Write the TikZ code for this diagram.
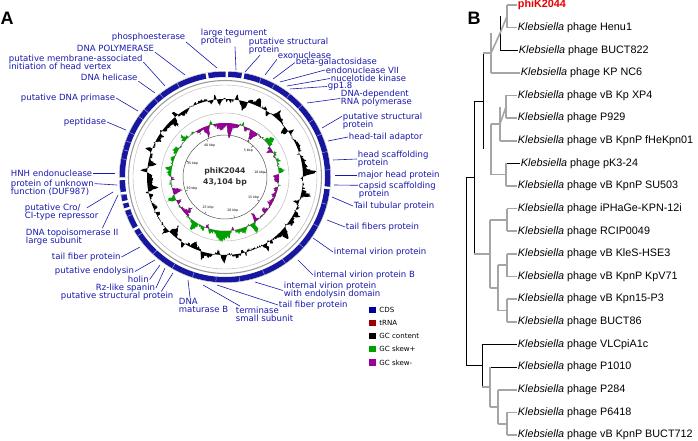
\documentclass[tikz,border=0pt]{standalone}
\usepackage{fontspec}
\setmainfont{Liberation Sans}
\newfontfamily\dejavu{DejaVu Sans}
\usetikzlibrary{calc}
\definecolor{labblue}{RGB}{25,25,175}
\definecolor{ringblue}{RGB}{22,22,160}
\definecolor{cdsblue}{RGB}{0,0,153}
\definecolor{trnared}{RGB}{153,0,0}
\definecolor{skewp}{RGB}{0,160,0}
\definecolor{skewm}{RGB}{153,0,153}
\definecolor{treegray}{RGB}{165,165,165}
\definecolor{phired}{RGB}{230,0,0}
\pgfmathdeclarefunction{spk}{1}{\pgfmathparse{max(0,sin(#1))}\pgfmathparse{\pgfmathresult*\pgfmathresult*\pgfmathresult}\pgfmathparse{\pgfmathresult*\pgfmathresult}}
\pgfmathdeclarefunction{gcc}{1}{\pgfmathparse{2.5*cos(#1+10)+1.8*sin(7*#1+40)+1.4*sin(17*#1+10)+1.2*sin(31*#1+70)+7*spk(23*#1+15)-6*spk(19*#1+100)+(rnd-0.5)*3.4}}
\pgfmathdeclarefunction{gcs}{1}{\pgfmathparse{3*sin(3*#1)+2*sin(#1+200)+1.5*sin(29*#1+10)+1.2*sin(41*#1+50)+7*spk(11*#1+20)-7*spk(13*#1+70)+(rnd-0.5)*4}}
\tikzset{
  lab/.style={font=\dejavu\fontsize{6.4}{6.2}\selectfont, text=labblue, inner sep=0.5pt, align=left},
  lead/.style={draw=labblue, line width=0.45pt},
  legsq/.style={minimum size=5.2pt, inner sep=0pt, draw=none},
  legtxt/.style={font=\dejavu\fontsize{5.3}{6}\selectfont, anchor=west, inner sep=0.5pt},
  br/.style={draw=treegray, line width=1.2pt},
  bk/.style={draw=black, line width=0.45pt},
  leaf/.style={font=\fontsize{8.1}{9}\selectfont, anchor=west, inner sep=0.5pt},
  panel/.style={font=\fontsize{13.5}{14}\selectfont\bfseries, inner sep=0pt}
}
\begin{document}
\begin{tikzpicture}[x=0.75pt,y=-0.75pt]
\useasboundingbox (0,0) rectangle (698,441);
\fill[white] (0,0) rectangle (698,441);
\node[panel] (pA) at (7,18) {A};
\node[panel] (pB) at (474,18) {B};

% ---------------- circular map ----------------
\begin{scope}[shift={(225,177)},yscale=-1]
  \pgfmathsetseed{7}
  \fill[black, even odd rule] plot[domain=0:359.5, samples=720, variable=\t] (\t:{78+gcc(\t)}) -- cycle (0,0) circle (78);
  \pgfmathsetseed{11}
  \fill[skewp, even odd rule] plot[domain=0:359.5, samples=720, variable=\t] (\t:{54+gcs(\t)}) -- cycle (0,0) circle (54);
  \begin{scope}
    \clip (0,0) circle (54);
    \pgfmathsetseed{11}
    \fill[skewm, even odd rule] plot[domain=0:359.5, samples=720, variable=\t] (\t:{54+gcs(\t)}) -- cycle (0,0) circle (54);
  \end{scope}
  \draw[black!70, line width=0.35pt] (0,0) circle (42);
  \draw[gray!60, line width=0.3pt] (0,0) circle (64);
  \draw[gray!60, line width=0.3pt] (0,0) circle (92);
  \draw[gray!80, line width=0.8pt] (0,0) circle (96.5);
  \fill[ringblue, even odd rule] (0,0) circle (105.5) (0,0) circle (100);
  \draw[gray!60, line width=0.3pt] (0,0) circle (105.8);
  \foreach \a in {140,128,117,70,62,52,43,33,24,14,4,-15,-28,-42,-55,-68,-82,-95,-108,-120,-133,-146,-158,-170,-180,165,155,-190,-200,-215,-228}
    \draw[white!60!ringblue, line width=0.35pt] (\a:100) -- (\a:105.5);
  \foreach \a in {100,89,80,-6,181,189,194,198,210}
    \draw[white, line width=1.8pt] (\a:99.6) -- (\a:105.9);
  \foreach \k in {1,...,8}{
    \pgfmathsetmacro\ang{90-360*\k*5/43.104}
    \pgfmathtruncatemacro\kb{5*\k}
    \draw[black!70, line width=0.3pt] (\ang:42) -- (\ang:39.5);
    \node[font=\dejavu\fontsize{2.4}{2.6}\selectfont, inner sep=0pt] (tk\k) at (\ang:35) {\kb\ kbp};
  }
  \node[font=\dejavu\bfseries\fontsize{5.8}{8.2}\selectfont, text=black!80, align=center] (title) at (0,0) {phiK2044\\43,104 bp};
\end{scope}

% ---------------- labels, left and bottom ----------------
\node[lab, anchor=west] (Lpho) at (111,37) {phosphoesterase};
\draw[lead] (Lpho.south east) -- (217,68);
\node[lab, anchor=west] (Lteg) at (200,37.5) {large tegument\\protein};
\draw[lead] ($(Lteg.south west)+(35,0)$) -- (236,70);
\node[lab, anchor=west] (Lps1) at (248,46) {putative structural\\ protein};
\draw[lead] ($(Lps1.south west)+(12,0)$) -- (245,72);
\node[lab, anchor=west] (Lpol) at (76,48) {DNA POLYMERASE};
\draw[lead] (Lpol.south east) -- (185,75);
\node[lab, anchor=west] (Lmem) at (8,62) {putative membrane-associated\\initiation of head vertex};
\draw[lead] (Lmem.east) -- (165,86);
\node[lab, anchor=west] (Lhel) at (80,77) {DNA helicase};
\draw[lead] (Lhel.south east) -- (155,93);
\node[lab, anchor=west] (Lpri) at (20,98) {putative DNA primase};
\draw[lead] (Lpri.east) -- (138,111);
\node[lab, anchor=west] (Lpep) at (63,122) {peptidase};
\draw[lead] (Lpep.east) -- (126,130);
\node[lab, anchor=west] (Lhnh) at (10,173) {HNH endonuclease};
\draw[lead] (Lhnh.east) -- (115,173);
\node[lab, anchor=west] (Lduf) at (10,188) {protein of unknown\\function (DUF987)};
\draw[lead] ($(Lduf.north east)+(0,4.5)$) -- (117,185);
\node[lab, anchor=west] (Lcro) at (24,212.5) {putative Cro/\\CI-type repressor};
\draw[lead] ($(Lcro.north west)+(63,4.5)$) -- (113,192);
\node[lab, anchor=west] (Ltop) at (25,237.5) {DNA topoisomerase II\\large subunit};
\draw[lead] ($(Ltop.north east)+(-17,0)$) -- (118,195);
\node[lab, anchor=west] (Ltf1) at (51,257) {tail fiber protein};
\draw[lead] (Ltf1.east) -- (140,247);
\node[lab, anchor=west] (Lend) at (54,271.5) {putative endolysin};
\draw[lead] (Lend.east) -- (155,260);
\node[lab, anchor=west] (Lhol) at (127,279.5) {holin};
\draw[lead] (Lhol.east) -- (160,265);
\node[lab, anchor=west] (Lrz) at (95,288) {Rz-like spanin};
\draw[lead] (Lrz.east) -- (165,268);
\node[lab, anchor=west] (Lpsp) at (60,296.5) {putative structural protein};
\draw[lead] ($(Lpsp.north east)+(-13,0)$) -- (173,273);
\node[lab, anchor=west] (Lmat) at (178,305.5) {DNA\\maturase B};
\draw[lead] ($(Lmat.north west)+(12,0)$) -- (188,280);
\node[lab, anchor=west] (Lter) at (235,314.5) {terminase\\ small subunit};
\draw[lead] ($(Lter.north west)+(5,0)$) -- (203,285);
\node[lab, anchor=west] (Ltf2) at (278,305) {tail fiber protein};
\draw[lead] (Ltf2.west) -- (217,285);
\node[lab, anchor=west] (Lvend) at (283,290.5) {internal virion protein\\with endolysin domain};
\draw[lead] (Lvend.west) -- (255,282);

% ---------------- labels, right ----------------
\node[lab, anchor=west] (LivB) at (313,275) {internal virion protein B};
\draw[lead] (LivB.west) -- (298,260);
\node[lab, anchor=west] (Liv) at (333,252) {internal virion protein};
\draw[lead] (Liv.west) -- (313,238);
\node[lab, anchor=west] (Ltfs) at (345,227) {tail fibers protein};
\draw[lead] (Ltfs.west) -- (327,220);
\node[lab, anchor=west] (Ltt) at (353,206) {Tail tubular protein};
\draw[lead] (Ltt.west) -- (332,197);
\node[lab, anchor=west] (Lcap) at (358,190) {capsid scaffolding\\protein};
\draw[lead] ($(Lcap.north west)+(0,4.5)$) -- (334,185);
\node[lab, anchor=west] (Lmaj) at (357,175) {major head protein};
\draw[lead] (Lmaj.west) -- (335,175);
\node[lab, anchor=west] (Lhsc) at (357,159) {head scaffolding\\protein};
\draw[lead] (Lhsc.west) -- (333,160);
\node[lab, anchor=west] (Lhta) at (348,137) {head-tail adaptor};
\draw[lead] (Lhta.west) -- (328,141);
\node[lab, anchor=west] (Lps2) at (342,121) {putative structural\\protein};
\draw[lead] ($(Lps2.north west)+(0,4.5)$) -- (322,128);
\node[lab, anchor=west] (Lrnap) at (340,98.5) {DNA-dependent\\RNA polymerase};
\draw[lead] (Lrnap.west) -- (307,103);
\node[lab, anchor=west] (Lgp) at (327,86.5) {gp1.8};
\draw[lead] (Lgp.west) -- (290,89);
\node[lab, anchor=west] (Lnk) at (330,78.5) {nucelotide kinase};
\draw[lead] (Lnk.west) -- (287,86);
\node[lab, anchor=west] (Lendo) at (325,70) {endonuclease VII};
\draw[lead] (Lendo.west) -- (280,82);
\node[lab, anchor=west] (Lbeta) at (295,62.5) {beta-galactosidase};
\draw[lead] (Lbeta.west) -- (273,79);
\node[lab, anchor=west] (Lexo) at (277,55) {exonuclease};
\draw[lead] (Lexo.south west) -- (265,75);

% ---------------- legend ----------------
\node[legsq, fill=cdsblue] (q1) at (372.5,310) {};
\node[legtxt] (t1) at (378.5,310) {CDS};
\node[legsq, fill=trnared] (q2) at (372.5,323) {};
\node[legtxt] (t2) at (378.5,323) {tRNA};
\node[legsq, fill=black] (q3) at (372.5,336) {};
\node[legtxt] (t3) at (378.5,336) {GC content};
\node[legsq, fill=skewp] (q4) at (372.5,349) {};
\node[legtxt] (t4) at (378.5,349) {GC skew+};
\node[legsq, fill=skewm] (q5) at (372.5,362.5) {};
\node[legtxt] (t5) at (378.5,362.5) {GC skew-};

% ---------------- tree ----------------
\node[leaf, text=phired, font=\fontsize{8.1}{9}\selectfont\bfseries] (l0) at (517,5) {phiK2044};
\node[leaf] (l1) at (517,27.6) {\textit{Klebsiella} phage Henu1};
\node[leaf] (l2) at (518,50.3) {\textit{Klebsiella} phage BUCT822};
\node[leaf] (l3) at (520,72.9) {\textit{Klebsiella} phage KP NC6};
\node[leaf] (l4) at (517,95.5) {\textit{Klebsiella} phage vB Kp XP4};
\node[leaf] (l5) at (517,118.2) {\textit{Klebsiella} phage P929};
\node[leaf] (l6) at (517,140.8) {\textit{Klebsiella} phage vB KpnP fHeKpn01};
\node[leaf] (l7) at (520,163.4) {\textit{Klebsiella} phage pK3-24};
\node[leaf] (l8) at (517,186.0) {\textit{Klebsiella} phage vB KpnP SU503};
\node[leaf] (l9) at (517,208.7) {\textit{Klebsiella} phage iPHaGe-KPN-12i};
\node[leaf] (l10) at (517,231.3) {\textit{Klebsiella} phage RCIP0049};
\node[leaf] (l11) at (517,253.9) {\textit{Klebsiella} phage vB KleS-HSE3};
\node[leaf] (l12) at (517,276.6) {\textit{Klebsiella} phage vB KpnP KpV71};
\node[leaf] (l13) at (517,299.2) {\textit{Klebsiella} phage vB Kpn15-P3};
\node[leaf] (l14) at (517,321.8) {\textit{Klebsiella} phage BUCT86};
\node[leaf] (l15) at (517,344.5) {\textit{Klebsiella} phage VLCpiA1c};
\node[leaf] (l16) at (517,367.1) {\textit{Klebsiella} phage P1010};
\node[leaf] (l17) at (517,389.7) {\textit{Klebsiella} phage P284};
\node[leaf] (l18) at (517,412.3) {\textit{Klebsiella} phage P6418};
\node[leaf] (l19) at (517,435.0) {\textit{Klebsiella} phage vB KpnP BUCT712};

\coordinate (n01) at (507,16.3);
\coordinate (n012) at (500,33.3);
\coordinate (n0123) at (491,53.1);
\coordinate (n45) at (506,106.8);
\coordinate (n456) at (500,123.8);
\coordinate (n78) at (506,174.7);
\coordinate (n4578) at (491,149.3);
\coordinate (g1) at (483,101.2);
\coordinate (n910) at (507,220.0);
\coordinate (n1112) at (507,265.2);
\coordinate (n1314) at (507,310.5);
\coordinate (n1114) at (498,287.8);
\coordinate (g2) at (490,253.9);
\coordinate (g12) at (474,177.5);
\coordinate (n1819) at (507,423.7);
\coordinate (n1719) at (498,406.7);
\coordinate (n1619) at (490,386.9);
\coordinate (g3) at (482,365.7);
\coordinate (root) at (466,271.6);

% leaf branches
\draw[br] (n01 |- l0) -- (l0.west);
\draw[br] (n01 |- l1) -- (l1.west);
\draw[bk] (n012 |- l2) -- (l2.west);
\draw[br] (n0123 |- l3) -- (l3.west);
\draw[br] (n45 |- l4) -- (l4.west);
\draw[br] (n45 |- l5) -- (l5.west);
\draw[br] (n456 |- l6) -- (l6.west);
\draw[bk] (n78 |- l7) -- (l7.west);
\draw[br] (n78 |- l8) -- (l8.west);
\draw[br] (n910 |- l9) -- (l9.west);
\draw[br] (n910 |- l10) -- (l10.west);
\draw[br] (n1112 |- l11) -- (l11.west);
\draw[br] (n1112 |- l12) -- (l12.west);
\draw[br] (n1314 |- l13) -- (l13.west);
\draw[br] (n1314 |- l14) -- (l14.west);
\draw[bk] (g3 |- l15) -- (l15.west);
\draw[bk] (n1619 |- l16) -- (l16.west);
\draw[br] (n1719 |- l17) -- (l17.west);
\draw[br] (n1819 |- l18) -- (l18.west);
\draw[br] (n1819 |- l19) -- (l19.west);
% verticals
\draw[br] (n01 |- l0) -- (n01 |- l1);
\draw[bk] (n012 |- n01) -- (n012 |- l2);
\draw[br] (n0123 |- n012) -- (n0123 |- l3);
\draw[br] (n45 |- l4) -- (n45 |- l5);
\draw[br] (n456 |- n45) -- (n456 |- l6);
\draw[br] (n78 |- l7) -- (n78 |- l8);
\draw[br] (n4578 |- n456) -- (n4578 |- n78);
\draw[bk] (g1 |- n0123) -- (g1 |- n4578);
\draw[br] (n910 |- l9) -- (n910 |- l10);
\draw[br] (n1112 |- l11) -- (n1112 |- l12);
\draw[br] (n1314 |- l13) -- (n1314 |- l14);
\draw[br] (n1114 |- n1112) -- (n1114 |- n1314);
\draw[br] (g2 |- n910) -- (g2 |- n1114);
\draw[bk] (g12 |- g1) -- (g12 |- g2);
\draw[br] (n1819 |- l18) -- (n1819 |- l19);
\draw[br] (n1719 |- l17) -- (n1719 |- n1819);
\draw[br] (n1619 |- l16) -- (n1619 |- n1719);
\draw[bk] (g3 |- l15) -- (g3 |- n1619);
\draw[bk] (root |- g12) -- (root |- g3);
% internal horizontals
\draw[br] (n012) -- (n01);
\draw[br] (n0123) -- (n012);
\draw[br] (g1 |- n0123) -- (n0123);
\draw[br] (n456) -- (n45);
\draw[br] (n4578 |- n456) -- (n456);
\draw[br] (n4578 |- n78) -- (n78);
\draw[bk] (g12 |- g1) -- (g1);
\draw[br] (g2 |- n910) -- (n910);
\draw[br] (n1114 |- n1112) -- (n1112);
\draw[br] (n1114 |- n1314) -- (n1314);
\draw[br] (g2 |- n1114) -- (n1114);
\draw[br] (g12 |- g2) -- (g2);
\draw[br] (n1719 |- n1819) -- (n1819);
\draw[br] (n1619 |- n1719) -- (n1719);
\draw[br] (g3 |- n1619) -- (n1619);
\draw[bk] (root |- g12) -- (g12);
\draw[bk] (root |- g3) -- (g3);
\end{tikzpicture}
\end{document}
